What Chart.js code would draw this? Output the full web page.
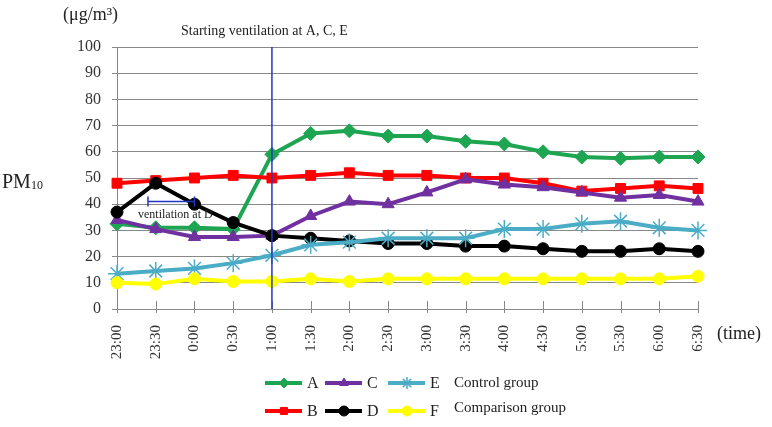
<!DOCTYPE html>
<html>
<head>
<meta charset="utf-8">
<script src="https://cdn.jsdelivr.net/npm/chart.js@4"></script>
<style>
  html, body { margin: 0; background: #fff; }
  #wrap { width: 772px; height: 427px; }
</style>
</head>
<body>
<div id="wrap"><canvas id="pmChart"></canvas></div>
<script>
const times = ["23:00", "23:30", "0:00", "0:30", "1:00", "1:30", "2:00", "2:30",
  "3:00", "3:30", "4:00", "4:30", "5:00", "5:30", "6:00", "6:30"];
const yTicks = [0, 10, 20, 30, 40, 50, 60, 70, 80, 90, 100];

const seriesA = [32.5, 31, 31, 30.5, 59, 67, 68, 66, 66, 64, 63, 60, 58, 57.5, 58, 58];
const seriesB = [48, 49, 50, 51, 50, 51, 52, 51, 51, 50, 50, 48, 45, 46, 47, 46];
const seriesC = [34, 30.5, 27.5, 27.5, 28, 35.5, 41, 40, 44.5, 49.5, 47.5, 46.5, 44.5, 42.5, 43.5, 41];
const seriesD = [37, 48, 40, 33, 28, 27, 26, 25, 25, 24, 24, 23, 22, 22, 23, 22];
const seriesE = [13.5, 14.5, 15.5, 17.5, 20.5, 24.5, 25.5, 27, 27, 27, 30.5, 30.5, 32.5, 33.5, 31, 30];
const seriesF = [10, 9.5, 11.5, 10.5, 10.5, 11.5, 10.5, 11.5, 11.5, 11.5, 11.5, 11.5, 11.5, 11.5, 11.5, 12.5];

const ventStart = 4;          // 1:00
const ventD = [0.8, 2, 41];   // from index, to index, at value

const serif = "'Liberation Serif', 'DejaVu Serif', serif";

function line(label, data, color, style, radius) {
  return {
    label: label,
    data: data,
    borderColor: color,
    backgroundColor: color,
    borderWidth: 4,
    pointStyle: style,
    pointRadius: radius,
    pointBorderWidth: style === "star" ? 1.5 : 1,
    pointBorderColor: color,
    tension: 0,
  };
}

const datasets = [
  line("F", seriesF, "#ffff00", "circle", 6),
  line("E", seriesE, "#4bacc6", "star", 9),
  line("D", seriesD, "#000000", "circle", 6),
  line("C", seriesC, "#7030a0", "triangle", 7),
  line("B", seriesB, "#ff0000", "rect", 7),
  line("A", seriesA, "#1ea552", "rectRot", 7),
];

const extras = {
  id: "extras",
  afterDatasetsDraw(chart) {
    const { ctx, chartArea: area, scales: { x, y } } = chart;
    ctx.save();

    // small tick marks across the x axis
    ctx.strokeStyle = "#888";
    ctx.lineWidth = 1;
    times.forEach((t, i) => {
      const px = Math.round(x.getPixelForValue(i)) + 0.5;
      ctx.beginPath();
      ctx.moveTo(px, area.bottom - 8);
      ctx.lineTo(px, area.bottom + 4);
      ctx.stroke();
    });

    // start of ventilation
    const vx = x.getPixelForValue(ventStart);
    ctx.strokeStyle = "#2535c8";
    ctx.lineWidth = 1.5;
    ctx.beginPath();
    ctx.moveTo(vx, area.top);
    ctx.lineTo(vx, area.bottom);
    ctx.stroke();

    // ventilation at D bracket
    const x1 = x.getPixelForValue(ventD[0]);
    const x2 = x.getPixelForValue(ventD[1]);
    const by = y.getPixelForValue(ventD[2]);
    ctx.lineWidth = 1.5;
    ctx.beginPath();
    ctx.moveTo(x1, by); ctx.lineTo(x2, by);
    ctx.moveTo(x1, by - 5); ctx.lineTo(x1, by + 5);
    ctx.moveTo(x2, by - 5); ctx.lineTo(x2, by + 5);
    ctx.stroke();

    ctx.fillStyle = "#222";
    ctx.textBaseline = "middle";
    ctx.textAlign = "left";
    ctx.font = "12px " + serif;
    ctx.fillText("ventilation at D", x1 - 10, by + 13);

    ctx.font = "14px " + serif;
    ctx.fillText("Starting ventilation at A, C, E", 181, 31);

    ctx.font = "18px " + serif;
    ctx.fillText("(\u03bcg/m\u00b3)", 63, 15);
    ctx.fillText("(time)", 717, 334);

    ctx.font = "20px " + serif;
    ctx.fillText("PM", 2, 183);
    const pmW = ctx.measureText("PM").width;
    ctx.font = "12px " + serif;
    ctx.fillText("10", 2 + pmW, 186);

    // legend
    const rows = [["A", "C", "E"], ["B", "D", "F"]];
    const rowY = [383, 411];
    const colX = [265, 325, 388];
    rows.forEach((row, r) => {
      row.forEach((lab, c) => {
        const ds = datasets.find(d => d.label === lab);
        const lx = colX[c];
        const ly = rowY[r];
        ctx.strokeStyle = ds.borderColor;
        ctx.lineWidth = 4;
        ctx.beginPath();
        ctx.moveTo(lx, ly);
        ctx.lineTo(lx + 37, ly);
        ctx.stroke();
        ctx.fillStyle = ds.backgroundColor;
        ctx.lineWidth = ds.pointBorderWidth;
        Chart.helpers.drawPoint(ctx, {
          pointStyle: ds.pointStyle,
          radius: ds.pointStyle === "star" ? 6 : 5,
          rotation: 0,
          borderWidth: ds.pointBorderWidth,
        }, lx + 19, ly);
        ctx.fillStyle = "#222";
        ctx.font = "16px " + serif;
        ctx.fillText(lab, lx + 42, ly + 1);
      });
    });
    ctx.font = "15px " + serif;
    ctx.fillText("Control group", 454, 383);
    ctx.fillText("Comparison group", 454, 408);

    ctx.restore();
  },
};

new Chart(document.querySelector("#pmChart"), {
  type: "line",
  data: { labels: times, datasets: datasets },
  plugins: [extras],
  options: {
    responsive: true,
    maintainAspectRatio: false,
    animation: false,
    layout: { padding: { left: 0, right: 74, top: 47, bottom: 0 } },
    plugins: { legend: { display: false }, tooltip: { enabled: false } },
    scales: {
      x: {
        offset: false,
        grid: { display: false },
        border: { color: "#888", width: 1 },
        ticks: {
          minRotation: 90,
          maxRotation: 90,
          color: "#333",
          padding: 8,
          font: { family: serif, size: 15 },
        },
        afterFit(scale) { scale.height = 118; },
      },
      y: {
        min: 0,
        max: 100,
        afterBuildTicks(scale) { scale.ticks = yTicks.map(v => ({ value: v })); },
        grid: { color: "#888", lineWidth: 1, tickLength: 5 },
        border: { color: "#888", width: 1 },
        ticks: {
          color: "#333",
          padding: 11,
          font: { family: serif, size: 16 },
        },
        afterFit(scale) { scale.width = 117; },
      },
    },
  },
});
</script>
</body>
</html>
